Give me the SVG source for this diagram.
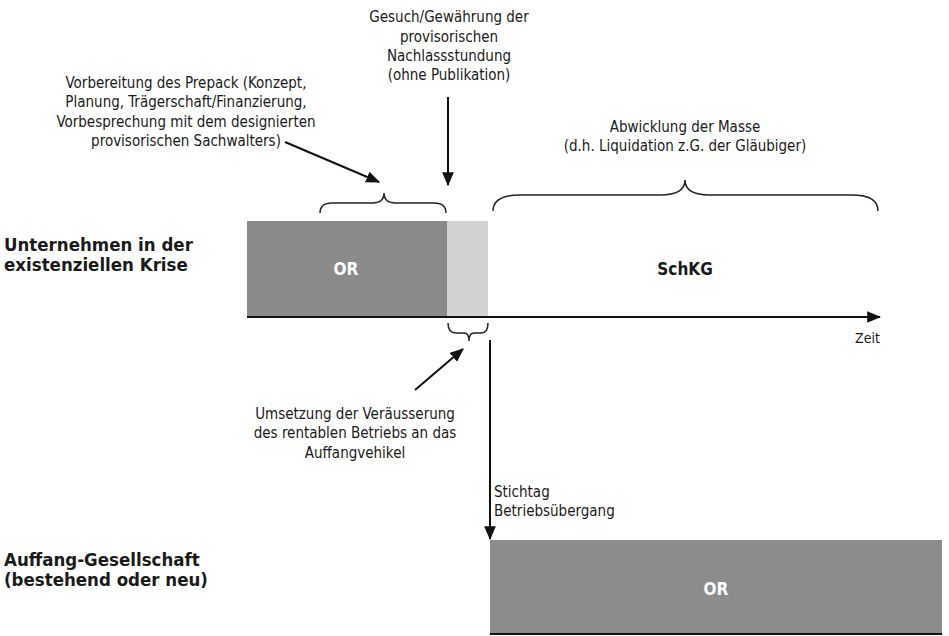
<svg xmlns="http://www.w3.org/2000/svg" width="949" height="636" viewBox="0 0 949 636">
<defs>
<marker id="ahBig" viewBox="0 0 12 10" refX="11" refY="5" markerWidth="14" markerHeight="12" markerUnits="userSpaceOnUse" orient="auto">
<path d="M0,0 L12,5 L0,10 Z" fill="#111"/>
</marker>
</defs>
<style>
text{font-family:"Liberation Sans Narrow","DejaVu Sans Condensed","Liberation Sans",sans-serif;fill:#1a1a1a;font-size:15px}
.c{text-anchor:middle}
.b{font-weight:bold;font-size:18.5px}
.s{font-weight:bold;font-size:17px}
.w{fill:#fff;font-weight:bold;font-size:17px}
.ln{stroke:#111;stroke-width:2;fill:none}
.br{stroke:#222;stroke-width:1.5;fill:none}
</style>
<rect width="949" height="636" fill="#fff"/>

<g id="label-unternehmen">
<text class="b" x="4" y="251">Unternehmen in der</text>
<text class="b" x="4" y="271">existenziellen Krise</text>
</g>

<g id="label-auffang">
<text class="b" x="4" y="566">Auffang-Gesellschaft</text>
<text class="b" x="4" y="586">(bestehend oder neu)</text>
</g>

<g id="box-or-top">
<rect x="247" y="221" width="200" height="95" fill="#8a8a8a"/>
<text class="w c" x="346" y="275">OR</text>
</g>

<g id="box-nachlass">
<rect x="447" y="221" width="41" height="95" fill="#d2d2d2"/>
</g>

<g id="box-schkg">
<text class="s c" x="685" y="275">SchKG</text>
</g>

<g id="box-or-bottom">
<rect x="490" y="540" width="452" height="94" fill="#8c8c8c"/>
<line x1="490" y1="634" x2="942" y2="634" stroke="#111" stroke-width="2"/>
<text class="w c" x="716" y="595">OR</text>
</g>

<g id="text-vorbereitung">
<text class="c" x="186" y="88">Vorbereitung des Prepack (Konzept,</text>
<text class="c" x="186" y="107">Planung, Trägerschaft/Finanzierung,</text>
<text class="c" x="186" y="127">Vorbesprechung mit dem designierten</text>
<text class="c" x="186" y="146">provisorischen Sachwalters)</text>
</g>

<g id="text-gesuch">
<text class="c" x="449" y="22">Gesuch/Gewährung der</text>
<text class="c" x="449" y="42">provisorischen</text>
<text class="c" x="449" y="61">Nachlassstundung</text>
<text class="c" x="449" y="80">(ohne Publikation)</text>
</g>

<g id="text-abwicklung">
<text class="c" x="685" y="132">Abwicklung der Masse</text>
<text class="c" x="685" y="151">(d.h. Liquidation z.G. der Gläubiger)</text>
</g>

<g id="text-umsetzung">
<text class="c" x="355" y="419">Umsetzung der Veräusserung</text>
<text class="c" x="355" y="438">des rentablen Betriebs an das</text>
<text class="c" x="355" y="458">Auffangvehikel</text>
</g>

<g id="text-stichtag">
<text x="494" y="497">Stichtag</text>
<text x="494" y="516">Betriebsübergang</text>
</g>

<g id="text-zeit">
<text x="855" y="343" style="font-size:14px">Zeit</text>
</g>

<g id="connectors">
<line class="ln" x1="247" y1="317" x2="880" y2="317" marker-end="url(#ahBig)"/>
<line class="ln" x1="285" y1="142" x2="379" y2="182" marker-end="url(#ahBig)"/>
<line class="ln" x1="448" y1="97" x2="448" y2="185" marker-end="url(#ahBig)"/>
<line class="ln" x1="415" y1="390" x2="463" y2="349" marker-end="url(#ahBig)"/>
<line class="ln" x1="490" y1="340" x2="490" y2="539" marker-end="url(#ahBig)"/>
<path class="br" d="M320,213 Q320,203 332,203 L372,203 Q384,203 384,193 Q384,203 396,203 L434,203 Q446,203 446,213"/>
<path class="br" d="M493,211 Q493,195 520,195 L660,195 Q685,195 685,180 Q685,195 710,195 L852,195 Q878,195 878,211"/>
<path class="br" d="M448,323 Q448,333 456,333 L464,333 Q469,333 469,341 Q469,333 474,333 L481,333 Q488,333 488,323"/>
</g>
</svg>
